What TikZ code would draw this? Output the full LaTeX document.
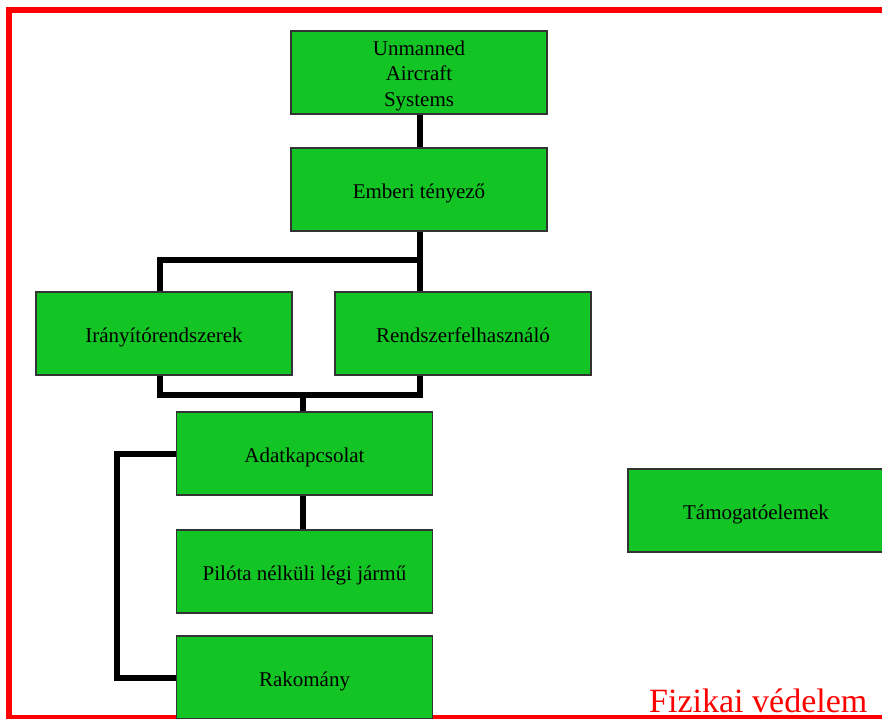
\documentclass[tikz,border=0pt]{standalone}
\usepackage{fontspec}
\setmainfont{Liberation Serif}
\usetikzlibrary{positioning}

\definecolor{boxgreen}{RGB}{19,197,36}
\definecolor{framered}{RGB}{255,0,0}

\begin{document}
\begin{tikzpicture}[x=1pt,y=-1pt,
    box/.style={rectangle,draw=black!80,line width=1.2pt,fill=boxgreen,
        minimum width=256pt,minimum height=83pt,align=center,inner sep=0pt,
        text height=18pt,text depth=1pt,
        font=\fontsize{21}{25.5}\selectfont},
    conn/.style={line width=6pt,black,line join=miter}]
    \useasboundingbox (0,0) rectangle (882,718);
    \clip (0,0) rectangle (882,718);

    % frame
    \draw[framered,line width=5.5pt] (9,10) rectangle (900,718);

    % chain of elements
    \draw (419,72.5) node[box,text height=70pt,text depth=3pt] (uas) {Unmanned\\Aircraft\\Systems};
    \draw (419,189.5) node[box] (emb) {Emberi tényező};
    \draw (164,333.5) node[box] (iran) {Irányítórendszerek};
    \draw (463,333.5) node[box] (rendsz) {Rendszerfelhasználó};
    \draw (304.5,453.5) node[box] (adat) {Adatkapcsolat};
    \draw (304.5,571.5) node[box] (pilota) {Pilóta nélküli légi jármű};
    \draw (304.5,677.5) node[box] (rakom) {Rakomány};
    \draw (756,510.5) node[box] (tamog) {Támogatóelemek};

    \coordinate (split) at (420,260);

    \draw[conn] (uas.south -| split) -- (emb.north -| split);
    \draw[conn] (emb.south -| split) -- (rendsz.north -| split);
    \draw[conn] (split) -| ([xshift=-4pt]iran.north);
    \draw[conn] ([xshift=-4pt]iran.south) -- ++(0,19) -| (rendsz.south -| split);
    \draw[conn] ([xshift=-1.5pt]adat.north) -- ++(0,-18);
    \draw[conn] ([xshift=-1.5pt]adat.south) -- ([xshift=-1.5pt]pilota.north);
    \draw[conn] (adat.west) -- ++(-59,0) |- (rakom.west);

    \draw (649,712) node[anchor=base west,text=framered,inner sep=0pt,
        font=\fontsize{34}{40}\selectfont] (fiz) {Fizikai védelem};
\end{tikzpicture}
\end{document}
